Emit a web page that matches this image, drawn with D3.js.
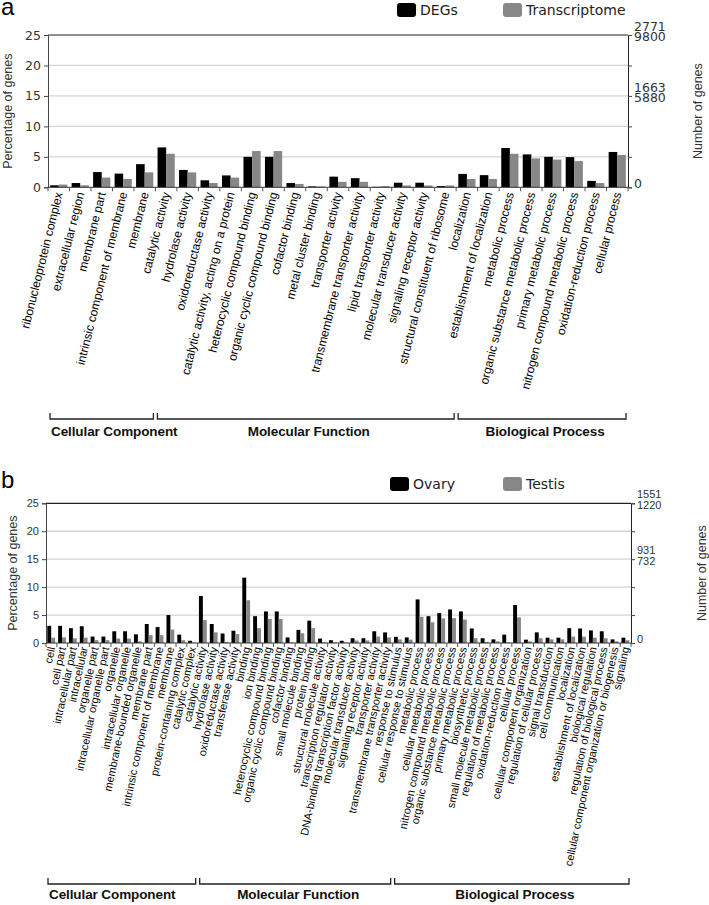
<!DOCTYPE html>
<html>
<head>
<meta charset="utf-8">
<script src="https://cdn.jsdelivr.net/npm/d3@7"></script>
<style>
  html, body { margin: 0; padding: 0; background: #fff; }
  svg { display: block; }
</style>
</head>
<body>
<svg id="chart" width="709" height="905"></svg>
<script>
// ---------------- DATA ----------------
const groupNames = ["Cellular Component", "Molecular Function", "Biological Process"];

// Panel a
const categoriesA = [
  "ribonucleoprotein complex", "extracellular region", "membrane part",
  "intrinsic component of membrane", "membrane",
  "catalytic activity", "hydrolase activity", "oxidoreductase activity",
  "catalytic activity, acting on a protein", "heterocyclic compound binding",
  "organic cyclic compound binding", "cofactor binding", "metal cluster binding",
  "transporter activity", "transmembrane transporter activity", "lipid transporter activity",
  "molecular transducer activity", "signaling receptor activity", "structural constituent of ribosome",
  "localization", "establishment of localization", "metabolic process",
  "organic substance metabolic process", "primary metabolic process",
  "nitrogen compound metabolic process", "oxidation-reduction process", "cellular process"
];
const groupSizesA = [5, 14, 8];
const degsA = [0.33, 0.7, 2.5, 2.25, 3.8, 6.55, 2.85, 1.15, 1.95, 5.0, 5.0, 0.7, 0.15,
  1.75, 1.5, 0.08, 0.75, 0.75, 0.2, 2.2, 2.0, 6.45, 5.4, 5.0, 4.95, 1.05, 5.8];
const transcriptomeA = [0.45, 0.33, 1.6, 1.37, 2.45, 5.5, 2.45, 0.7, 1.6, 5.95, 5.95, 0.55, 0.15,
  0.9, 0.9, 0.2, 0.3, 0.3, 0.3, 1.37, 1.37, 5.5, 4.75, 4.55, 4.3, 0.7, 5.3];
const seriesNamesA = ["DEGs", "Transcriptome"];
const totalsA = [2771, 9800];

// Panel b
const categoriesB = [
  "cell", "cell part", "intracellular part", "intracellular", "organelle part",
  "intracellular organelle part", "organelle", "intracellular organelle",
  "membrane-bounded organelle", "membrane part", "intrinsic component of membrane",
  "membrane", "protein-containing complex", "catalytic complex",
  "catalytic activity", "hydrolase activity", "oxidoreductase activity", "transferase activity",
  "binding", "ion binding", "heterocyclic compound binding", "organic cyclic compound binding",
  "cofactor binding", "small molecule binding", "protein binding", "structural molecule activity",
  "transcription regulator activity", "DNA-binding transcription factor activity",
  "molecular transducer activity", "signaling receptor activity", "transporter activity",
  "transmembrane transporter activity",
  "response to stimulus", "cellular response to stimulus", "metabolic process",
  "cellular metabolic process", "nitrogen compound metabolic process",
  "organic substance metabolic process", "primary metabolic process", "biosynthetic process",
  "small molecule metabolic process", "regulation of metabolic process",
  "oxidation-reduction process", "cellular process", "cellular component organization",
  "regulation of cellular process", "signal transduction", "cell communication",
  "localization", "establishment of localization", "biological regulation",
  "regulation of biological process", "cellular component organization or biogenesis", "signaling"
];
const groupSizesB = [14, 18, 22];
const ovaryB = [3.07, 3.07, 2.65, 3.0, 1.15, 1.15, 2.1, 2.1, 1.55, 3.4, 2.85, 5.0, 1.5, 0.4,
  8.4, 3.4, 1.7, 2.2, 11.7, 4.8, 5.65, 5.65, 1.0, 2.35, 4.0, 0.8, 0.5, 0.4, 0.85, 0.85, 2.1, 1.9,
  1.1, 1.0, 7.8, 4.8, 5.35, 6.0, 5.65, 2.6, 0.85, 0.65, 1.5, 6.8, 0.6, 1.9, 0.95, 0.95,
  2.65, 2.6, 2.25, 2.1, 0.65, 0.95];
const testisB = [0.96, 1.0, 0.85, 0.96, 0.5, 0.5, 0.8, 0.8, 0.3, 1.4, 1.4, 2.4, 0.5, 0.1,
  4.1, 1.9, 0.2, 1.6, 7.65, 2.65, 4.3, 4.3, 0.1, 1.75, 2.65, 0.15, 0.1, 0.1, 0.45, 0.45, 1.15, 1.0,
  0.65, 0.6, 4.7, 3.7, 4.4, 4.45, 4.2, 0.85, 0.2, 0.3, 0.1, 4.6, 0.3, 0.85, 0.65, 0.65,
  1.15, 1.15, 0.95, 0.85, 0.3, 0.5];
const seriesNamesB = ["Ovary", "Testis"];
const totalsB = [1551, 1220];

const pctTicks = [0, 5, 10, 15, 20, 25];
const gridTicks = [5, 10, 15, 20];
const rightLabelTicks = [15, 25];

// ---------------- DRAW ----------------
const svg = d3.select("#chart");
const COLORS = ["#000000", "#878787"];

function drawPanel(cfg) {
  const g = svg.append("g");
  const x = d3.scaleBand().domain(cfg.cats).range([cfg.left, cfg.right]);
  const y = d3.scaleLinear().domain([0, 25]).range([cfg.bottom, cfg.top]);
  const bw = x.bandwidth();

  // panel letter
  g.append("text").attr("x", 1).attr("y", cfg.letterY)
    .attr("font-family", "Liberation Sans, Arial, sans-serif").attr("font-size", 24)
    .attr("fill", "#000").text(cfg.letter);

  // grid
  g.selectAll("line.grid").data(gridTicks).join("line")
    .attr("x1", cfg.left).attr("x2", cfg.right)
    .attr("y1", d => y(d)).attr("y2", d => y(d))
    .attr("stroke", "#d4d4d4").attr("stroke-width", 1.3);

  // top frame
  g.append("line").attr("x1", cfg.left).attr("x2", cfg.right)
    .attr("y1", y(25)).attr("y2", y(25)).attr("stroke", "#222").attr("stroke-width", 1.2);

  // bars
  const series = [cfg.s1, cfg.s2];
  series.forEach((vals, si) => {
    g.selectAll("rect.s" + si).data(vals).join("rect")
      .attr("x", (d, i) => x(cfg.cats[i]) + bw * (cfg.offset + si * cfg.barFrac))
      .attr("width", bw * cfg.barFrac)
      .attr("y", d => y(d))
      .attr("height", d => y(0) - y(d))
      .attr("fill", COLORS[si]);
  });

  // left axis
  const la = g.append("g").attr("transform", `translate(${cfg.left},0)`)
    .call(d3.axisLeft(y).tickValues(pctTicks).tickSize(4).tickPadding(3));
  la.select(".domain").attr("stroke", "#444");
  la.selectAll(".tick line").attr("stroke", "#444");
  la.selectAll(".tick text").attr("font-family", cfg.tickFont).attr("font-size", cfg.tickSize)
    .attr("fill", "#333");

  // right axis
  const ra = g.append("g").attr("transform", `translate(${cfg.right},0)`)
    .call(d3.axisRight(y).tickValues(pctTicks).tickSize(4).tickFormat(""));
  ra.select(".domain").attr("stroke", "#222");
  ra.selectAll(".tick line").attr("stroke", "#444");
  // right labels
  g.append("text").attr("x", cfg.right + 6).attr("y", y(0) - 4).attr("dy", "0.35em")
    .attr("font-family", cfg.tickFont).attr("font-size", cfg.tickSize).attr("fill", "#333").text("0");
  rightLabelTicks.forEach(t => {
    const tx = g.append("text").attr("x", cfg.right + 6).attr("y", y(t) + cfg.row1)
      .attr("font-family", cfg.tickFont).attr("font-size", cfg.tickSize).attr("fill", "#333");
    cfg.totals.forEach((tot, k) => {
      tx.append("tspan").attr("x", cfg.right + 6)
        .attr("dy", k === 0 ? "0.35em" : (cfg.row2 - cfg.row1) + "px")
        .text(Math.round(tot * t / 25));
    });
  });

  // bottom axis line and boundary ticks
  g.append("line").attr("x1", cfg.left).attr("x2", cfg.right)
    .attr("y1", y(0)).attr("y2", y(0)).attr("stroke", "#333").attr("stroke-width", 1);
  const bounds = cfg.cats.map(c => x(c)).concat([cfg.right]);
  g.selectAll("line.bt").data(bounds).join("line")
    .attr("x1", d => d).attr("x2", d => d)
    .attr("y1", y(0)).attr("y2", y(0) + 4).attr("stroke", "#555");

  // category labels
  g.selectAll("text.cat").data(cfg.cats).join("text")
    .attr("transform", d => `translate(${x(d) + bw / 2 + cfg.labelDx},${y(0) + cfg.labelGap}) rotate(${cfg.angle})`)
    .attr("text-anchor", "end").attr("dy", "0.35em")
    .attr("font-family", "Liberation Sans, Arial, sans-serif")
    .attr("font-size", cfg.catSize).attr("fill", "#000").text(d => d);

  // axis titles
  g.append("text").attr("transform", `translate(${cfg.leftTitleX},${(cfg.top + cfg.bottom) / 2}) rotate(-90)`)
    .attr("text-anchor", "middle").attr("font-family", "Liberation Sans, Arial, sans-serif")
    .attr("font-size", 12.5).attr("fill", "#333").text("Percentage of genes");
  g.append("text").attr("transform", `translate(${cfg.rightTitleX},${(cfg.top + cfg.bottom) / 2}) rotate(-90)`)
    .attr("text-anchor", "middle").attr("font-family", "Liberation Sans, Arial, sans-serif")
    .attr("font-size", 12.5).attr("fill", "#333").text("Number of genes");

  // legend
  cfg.names.forEach((nm, k) => {
    const lx = cfg.legendX[k];
    g.append("rect").attr("x", lx).attr("y", cfg.legendY - 7).attr("width", 19).attr("height", 14)
      .attr("rx", 3).attr("fill", COLORS[k]);
    g.append("text").attr("x", lx + 23).attr("y", cfg.legendY).attr("dy", "0.35em")
      .attr("font-family", "DejaVu Sans, Verdana, sans-serif").attr("font-size", 14)
      .attr("fill", "#222").text(nm);
  });

  // group brackets
  let start = 0;
  cfg.groups.forEach((n, gi) => {
    const x0 = x(cfg.cats[start]) + 2;
    const x1 = (start + n < cfg.cats.length ? x(cfg.cats[start + n]) : cfg.right) - 2;
    const by = cfg.bracketY;
    g.append("path").attr("d", `M${x0},${by - 6}V${by}H${x1}V${by - 6}`)
      .attr("fill", "none").attr("stroke", "#222").attr("stroke-width", 1.3);
    const anchor = gi === 0 ? "start" : "middle";
    const tx = gi === 0 ? x0 + 1 : (x0 + x1) / 2 + 3;
    g.append("text").attr("x", tx).attr("y", by + cfg.groupDy).attr("text-anchor", anchor)
      .attr("font-family", "Liberation Sans, Arial, sans-serif").attr("font-weight", "bold")
      .attr("font-size", 13.5).attr("letter-spacing", "-0.1").attr("fill", "#111").text(groupNames[gi]);
    start += n;
  });
}

drawPanel({
  letter: "a", letterY: 15,
  cats: categoriesA, s1: degsA, s2: transcriptomeA, names: seriesNamesA, totals: totalsA,
  groups: groupSizesA,
  left: 48, right: 628, top: 35, bottom: 187.3,
  offset: 0.1, barFrac: 0.4,
  tickFont: "DejaVu Sans, Verdana, sans-serif", tickSize: 12.5, row1: -8.5, row2: 2,
  angle: -76, catSize: 12, labelGap: 5, labelDx: 0,
  leftTitleX: 12, rightTitleX: 702,
  legendX: [397, 503], legendY: 10,
  bracketY: 419, groupDy: 17
});

drawPanel({
  letter: "b", letterY: 488,
  cats: categoriesB, s1: ovaryB, s2: testisB, names: seriesNamesB, totals: totalsB,
  groups: groupSizesB,
  left: 46, right: 631, top: 503.3, bottom: 643,
  offset: 0.12, barFrac: 0.36,
  tickFont: "Liberation Sans, Arial, sans-serif", tickSize: 11, row1: -9.5, row2: 1.5,
  angle: -78, catSize: 11, labelGap: 4, labelDx: 0,
  leftTitleX: 17, rightTitleX: 706,
  legendX: [390, 503], legendY: 484,
  bracketY: 884, groupDy: 15
});
</script>
</body>
</html>
